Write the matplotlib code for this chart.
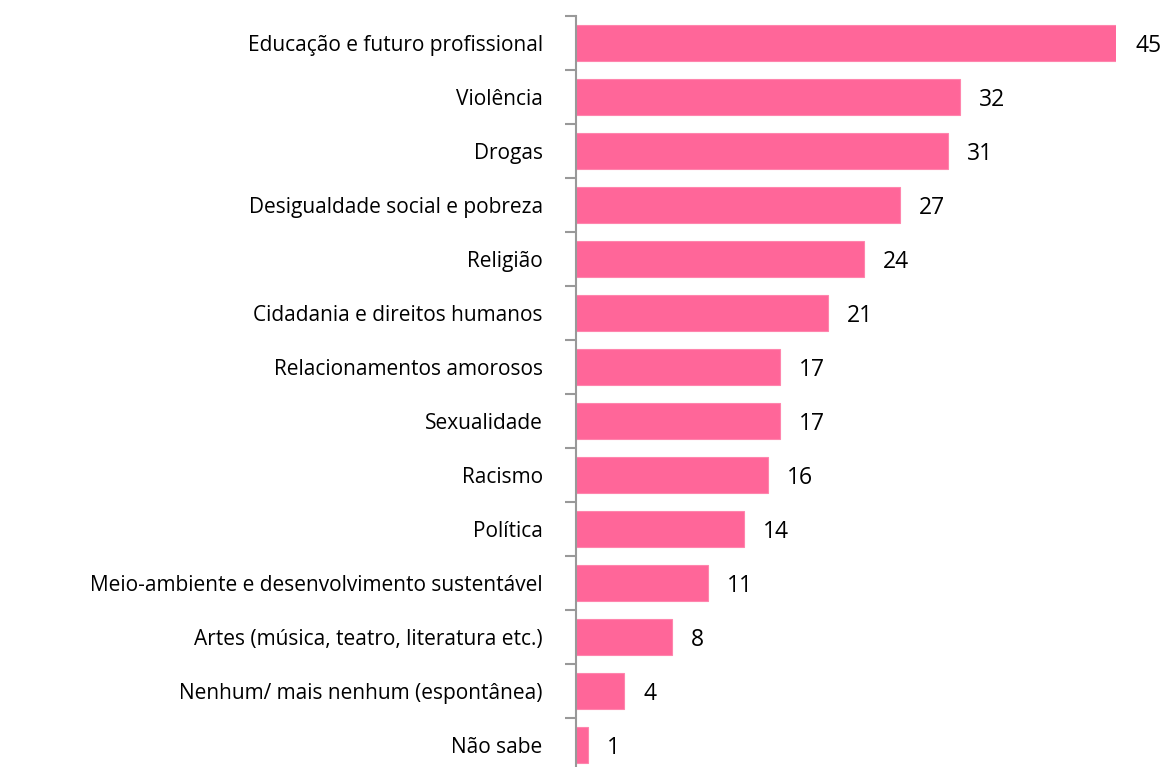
import matplotlib.pyplot as plt

plt.rcParams["font.family"] = ["Open Sans", "DejaVu Sans"]

temas = ["Educação e futuro profissional", "Violência", "Drogas",
         "Desigualdade social e pobreza", "Religião",
         "Cidadania e direitos humanos", "Relacionamentos amorosos",
         "Sexualidade", "Racismo", "Política",
         "Meio-ambiente e desenvolvimento sustentável",
         "Artes (música, teatro, literatura etc.)",
         "Nenhum/ mais nenhum (espontânea)", "Não sabe"]
valores = [45, 32, 31, 27, 24, 21, 17, 17, 16, 14, 11, 8, 4, 1]

fig = plt.figure(figsize=(11.68, 7.67), dpi=100)
ax = fig.add_axes([576 / 1168, -5 / 767, 540 / 1168, 756 / 767])

pos = range(len(temas))
ax.barh(pos, valores, height=0.66, color="#FF6699", edgecolor="#FF85AD", linewidth=0.8)
ax.set_ylim(len(temas) - 0.5, -0.5)
ax.set_xlim(0, 45)

for i, v in enumerate(valores):
    ax.text(v + 1.6, i + 0.05, str(v), va="center", ha="left", fontsize=16.5)

ax.set_yticks([p - 0.5 for p in range(len(temas) + 1)])
ax.set_yticklabels([])
ax.set_yticks(list(pos), minor=True)
ax.set_yticklabels(temas, minor=True, fontsize=15)
ax.tick_params(axis="y", which="major", length=8, width=1.5, color="#999999", direction="out")
ax.tick_params(axis="y", which="minor", length=0, pad=24)
ax.set_xticks([])
for s in ["top", "right", "bottom"]:
    ax.spines[s].set_visible(False)
ax.spines["left"].set_color("#999999")
ax.spines["left"].set_linewidth(1.5)

fig.savefig("out.png", dpi=100)
